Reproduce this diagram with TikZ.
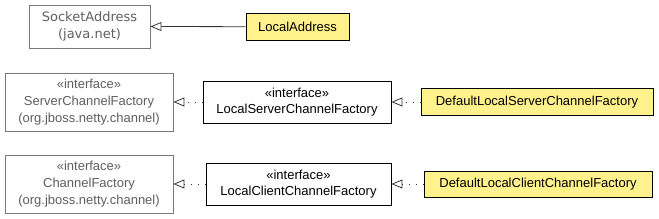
\documentclass[tikz,border=0pt]{standalone}
\usepackage{fontspec}
\setmainfont{Liberation Sans}
\newfontfamily\dejavu{DejaVu Sans}
\usetikzlibrary{arrows.meta}
\definecolor{noteyellow}{RGB}{255,241,140}
\definecolor{extgray}{RGB}{120,120,120}
\definecolor{exttext}{RGB}{95,95,95}
\tikzset{
  umlfont/.style={font=\fontsize{13}{16.7}\selectfont},
  extclass/.style={draw=extgray, line width=0.9pt, fill=white, text=exttext,
                   inner sep=0pt, align=center, umlfont},
  iface/.style={draw=black, line width=0.9pt, fill=white,
                inner sep=0pt, align=center, umlfont},
  impl/.style={draw=black, line width=0.9pt, fill=noteyellow,
               inner sep=0pt, align=center, umlfont},
  extends/.style={-{Triangle[open,length=11pt,width=9pt]}, line width=0.8pt,
                  draw=black!80},
  realizes/.style={extends, dash pattern=on 1pt off 6pt},
}

\begin{document}
\begin{tikzpicture}[x=1pt,y=-1pt]
  \path[use as bounding box] (0,0) rectangle (659,219);

  \node[extclass, minimum width=121pt, minimum height=43pt,
        font=\dejavu\fontsize{13}{17}\selectfont] (SOCK) at (89.5,26.5)
    {SocketAddress\\(java.net)};
  \node[impl, minimum width=103pt, minimum height=27pt] (LADDR) at (297.5,26.7)
    {LocalAddress};
  \draw[extends] (LADDR.west) -- (SOCK.east);

  \node[extclass, minimum width=168pt, minimum height=58pt] (SCF) at (89,102)
    {«interface»\\ServerChannelFactory\\(org.jboss.netty.channel)};
  \node[iface, minimum width=188pt, minimum height=42pt] (LSCF) at (297,102)
    {«interface»\\LocalServerChannelFactory};
  \node[impl, minimum width=232pt, minimum height=27pt] (DLSCF) at (537,102)
    {DefaultLocalServerChannelFactory};
  \draw[realizes] (LSCF.west) -- (SCF.east);
  \draw[realizes] (DLSCF.west) -- (LSCF.east);

  \node[extclass, minimum width=168pt, minimum height=58pt] (CF) at (89,184)
    {«interface»\\ChannelFactory\\(org.jboss.netty.channel)};
  \node[iface, minimum width=185pt, minimum height=42pt] (LCCF) at (298.5,184)
    {«interface»\\LocalClientChannelFactory};
  \node[impl, minimum width=228pt, minimum height=26pt] (DLCCF) at (538,184)
    {DefaultLocalClientChannelFactory};
  \draw[realizes] (LCCF.west) -- (CF.east);
  \draw[realizes] (DLCCF.west) -- (LCCF.east);
\end{tikzpicture}
\end{document}
